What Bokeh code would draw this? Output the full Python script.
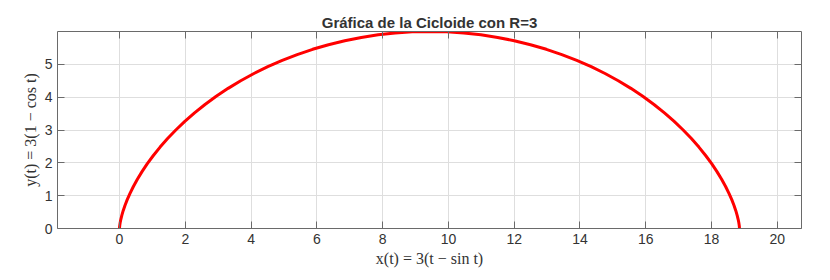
from bokeh.plotting import figure
from bokeh.models import Range1d, LinearAxis, FixedTicker
from bokeh.embed import file_html
from bokeh.resources import INLINE

# Cycloid R=3 sampled every 5 degrees of t (values read/estimated from the curve)
x_vals = [0.0, 0.0003, 0.0026, 0.0089, 0.0211, 0.0411, 0.0708, 0.1119, 0.1660,
          0.2349, 0.3199, 0.4223, 0.5435, 0.6845, 0.8461, 1.0292, 1.2344, 1.4620,
          1.7124, 1.9856, 2.2816, 2.6000, 2.9405, 3.3025, 3.6851, 4.0875, 4.5087,
          4.9473, 5.4020, 5.8715, 6.3540, 6.8479, 7.3515, 7.8629, 8.3802, 8.9015,
          9.4248, 9.9480, 10.4694, 10.9866, 11.4981, 12.0016, 12.4956, 12.9781,
          13.4476, 13.9023, 14.3409, 14.7620, 15.1645, 15.5471, 15.9091, 16.2495,
          16.5680, 16.8640, 17.1372, 17.3876, 17.6152, 17.8203, 18.0035, 18.1651,
          18.3061, 18.4272, 18.5297, 18.6147, 18.6836, 18.7377, 18.7788, 18.8084,
          18.8285, 18.8406, 18.8470, 18.8492, 18.8496]
y_vals = [0.0, 0.0114, 0.0456, 0.1022, 0.1809, 0.2811, 0.4019, 0.5425, 0.7019,
          0.8787, 1.0716, 1.2793, 1.5, 1.7321, 1.9739, 2.2235, 2.4791, 2.7385,
          3.0, 3.2615, 3.5209, 3.7765, 4.0261, 4.2679, 4.5, 4.7207, 4.9284,
          5.1213, 5.2981, 5.4575, 5.5981, 5.7189, 5.8191, 5.8978, 5.9544, 5.9886,
          6.0, 5.9886, 5.9544, 5.8978, 5.8191, 5.7189, 5.5981, 5.4575,
          5.2981, 5.1213, 4.9284, 4.7207, 4.5, 4.2679, 4.0261, 3.7765,
          3.5209, 3.2615, 3.0, 2.7385, 2.4791, 2.2235, 1.9739, 1.7321,
          1.5, 1.2793, 1.0716, 0.8787, 0.7019, 0.5425, 0.4019, 0.2811,
          0.1809, 0.1022, 0.0456, 0.0114, 0.0]
x_ticks = [0, 2, 4, 6, 8, 10, 12, 14, 16, 18, 20]
y_ticks = [0, 1, 2, 3, 4, 5]
title_text = "Gráfica de la Cicloide con R=3"
x_label = "x(t) = 3(t − sin t)"
y_label = "y(t) = 3(1 − cos t)"

AX = "#6a6a6a"
TXT = "#333333"

p = figure(width=830, height=280, output_backend="svg", toolbar_location=None,
           x_range=Range1d(-1.885, 20.735), y_range=Range1d(0, 6.0),
           min_border_left=57, min_border_right=29, min_border_top=31,
           min_border_bottom=52, title=title_text)
p.outline_line_color = None
p.background_fill_color = "white"
p.border_fill_color = "white"

p.title.align = "center"
p.title.text_font = "Liberation Sans"
p.title.text_font_size = "15px"
p.title.text_font_style = "bold"
p.title.text_color = TXT
p.title.standoff = 2

def style_axis(ax, ticks, show_labels=True):
    ax.ticker = FixedTicker(ticks=ticks)
    ax.axis_line_color = AX
    ax.axis_line_width = 1
    ax.major_tick_line_color = AX
    ax.major_tick_in = 7
    ax.major_tick_out = 0
    ax.minor_tick_line_color = None
    ax.major_label_text_font = "Liberation Sans"
    ax.major_label_text_font_size = "14px"
    ax.major_label_text_color = TXT
    ax.major_label_standoff = 5
    if not show_labels:
        ax.major_label_overrides = {t: "" for t in ticks}
        ax.major_label_standoff = 0

style_axis(p.xaxis[0], x_ticks)
style_axis(p.yaxis[0], y_ticks)
p.xaxis[0].axis_label = x_label
p.yaxis[0].axis_label = y_label
for ax in (p.xaxis[0], p.yaxis[0]):
    ax.axis_label_text_font = "Liberation Serif"
    ax.axis_label_text_font_size = "16px"
    ax.axis_label_text_font_style = "normal"
    ax.axis_label_text_color = TXT
    ax.axis_label_standoff = 3

top_ax = LinearAxis()
style_axis(top_ax, x_ticks, show_labels=False)
p.add_layout(top_ax, "above")
right_ax = LinearAxis()
style_axis(right_ax, y_ticks, show_labels=False)
p.add_layout(right_ax, "right")

p.xgrid.ticker = FixedTicker(ticks=x_ticks)
p.ygrid.ticker = FixedTicker(ticks=y_ticks)
p.xgrid.grid_line_color = "#dedede"
p.ygrid.grid_line_color = "#dedede"

p.line(x_vals, y_vals, line_color="#ff0000", line_width=3, line_join="round")

open("out.html", "w").write(file_html(p, INLINE))
